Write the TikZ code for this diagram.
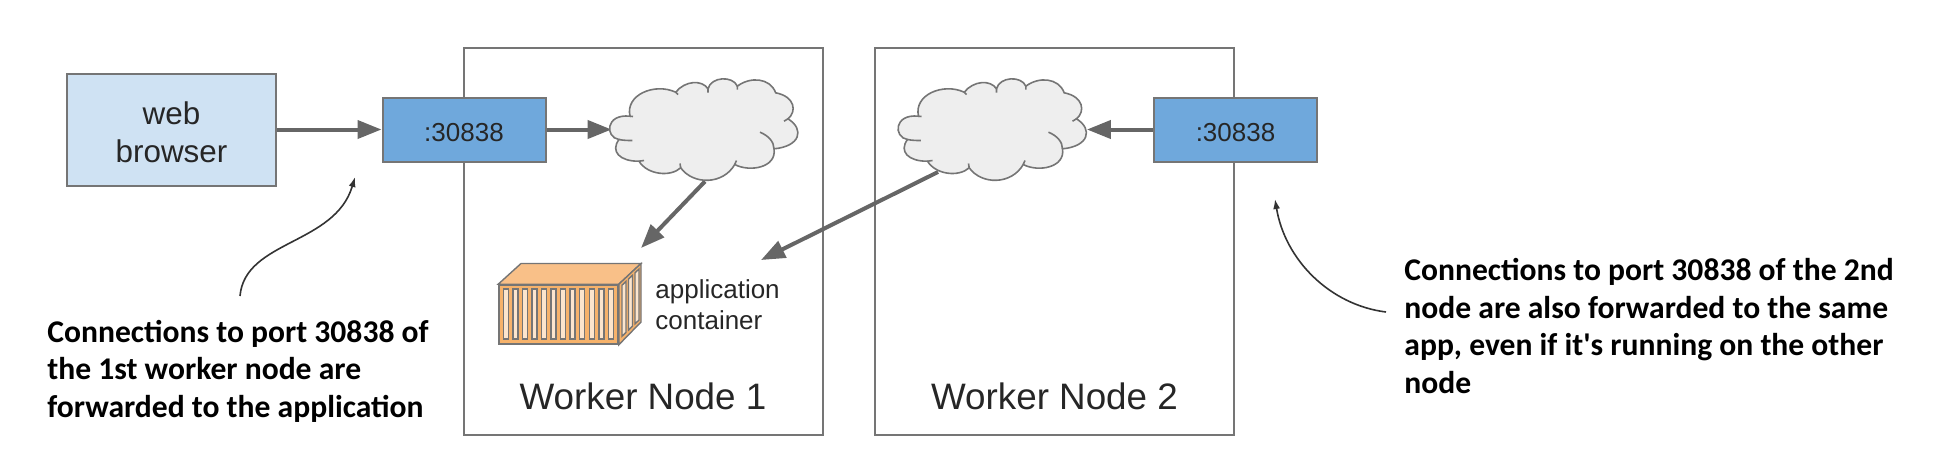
\documentclass[tikz,border=0pt]{standalone}
\usepackage{fontspec}
\setmainfont{Liberation Sans}
\newfontfamily\notefont{Carlito}
\usetikzlibrary{positioning, arrows.meta}
\definecolor{edgegray}{HTML}{757575}
\definecolor{arrowgray}{HTML}{666666}
\definecolor{browserblue}{HTML}{CFE2F3}
\definecolor{portblue}{HTML}{6FA8DC}
\definecolor{cloudgray}{HTML}{EEEEEE}
\definecolor{boxorange}{HTML}{F6B26B}
\definecolor{lidorange}{HTML}{F9C088}
\definecolor{slatcream}{HTML}{FCE5CD}
\tikzset{
netcloud/.pic = {
  \path[draw = edgegray, fill = cloudgray, line width = 0.8pt]
    (-75,-13.3) .. controls (-80,-35) and (-50,-47) .. (-29.3,-37.3)
    .. controls (-20,-49) and (-3,-50) .. (3,-40.7)
    .. controls (6,-53) and (28,-54) .. (32.3,-43.3)
    .. controls (45,-53) and (65,-52) .. (70.7,-36.7)
    .. controls (90,-33) and (92,-18) .. (83,-10.7)
    .. controls (100,0) and (95,17) .. (69,19.3)
    .. controls (72,38) and (45,43) .. (29.7,35)
    .. controls (18,55.5) and (-12,55.5) .. (-24.3,38.3)
    .. controls (-35,48) and (-58,45) .. (-66,31.7)
    .. controls (-85,32) and (-95,22) .. (-86,10)
    .. controls (-100,8) and (-100,-16) .. (-75,-13.3) -- cycle;
  \draw[edgegray, line width = 0.8pt]
    (-86,10) .. controls (-81,11) and (-77,11) .. (-72.7,11)
    (69,19.3) .. controls (69,12) and (63,6) .. (55,2.7)
    (83,-10.7) -- (79,-8.3)
    (-29.3,-37.3) -- (-27,-35)
    (3,-40.7) -- (3,-37)
    (32.3,-43.3) -- (32.3,-40)
    (-75,-13.3) -- (-72,-13)
    (29.7,35) -- (31.5,31)
    (-24.3,38.3) -- (-25,34)
    (-66,31.7) -- (-61,31);
}}
\begin{document}
\begin{tikzpicture}[x = 0.5pt, y = -0.5pt, on grid,
browser/.style = {rectangle, draw = edgegray, fill = browserblue, line width = 1pt, minimum width = 104.5pt, minimum height = 56pt, align = center, text = black!85, text height = 33pt, text depth = 0pt, font = \fontsize{15.7}{19}\selectfont},
port/.style = {rectangle, draw = edgegray, fill = portblue, line width = 1pt, minimum width = 81.5pt, minimum height = 32pt, text = black!85, text height = 12pt, text depth = 0pt, font = \fontsize{13}{15.5}\selectfont},
worker/.style = {rectangle, draw = edgegray, line width = 1pt, minimum width = 179.5pt, minimum height = 193.5pt},
workerlabel/.style = {inner sep = 0pt, text = black!85, font = \fontsize{18.4}{21}\selectfont},
cloudspot/.style = {rectangle, minimum width = 93pt, minimum height = 51.5pt, inner sep = 0pt},
crate/.style = {rectangle, draw = edgegray, fill = boxorange, line width = 0.8pt, minimum width = 59.5pt, minimum height = 29.5pt},
slat/.style = {draw = edgegray, fill = slatcream, line width = 0.7pt},
cratelabel/.style = {inner sep = 0pt, align = left, text = black!85, font = \fontsize{13}{15.5}\selectfont},
note/.style = {inner sep = 0pt, align = left, font = \fontsize{15.8}{18.75}\selectfont\notefont\bfseries},
flow/.style = {-{Triangle[length = 12pt, width = 9pt]}, arrowgray, line width = 2pt},
callout/.style = {-{Latex[length = 5pt, width = 3.5pt]}, black!80, line width = 0.8pt}]
\useasboundingbox (0,0) rectangle (1936,472);

\node[worker] (W1) at (643,241.5) {};
\node[worker] (W2) at (1054.5,241.5) {};
\node[browser] (B) at (171.5,129.5) {web\\browser};
\node[port] (P1) [right = 146.25pt of B] {:30838};
\node[port] (P2) at ([xshift = 0.25pt]W2.east |- P1) {:30838};
\node[cloudspot] (C1) [right = 120.5pt of P1] {};
\node[cloudspot] (C2) [left = 121pt of P2] {};
\node[workerlabel, anchor = base] (L1) at ([yshift = 13.5pt]W1.south) {Worker Node 1};
\node[workerlabel, anchor = base] (L2) at ([yshift = 13.5pt]W2.south) {Worker Node 2};
\node[crate] (K) at (558.5,314.5) {};
\node[cratelabel, anchor = base west] (T) at (655,329) {application\\container};
\node[note, anchor = base west] (N1) at (47,417) {Connections to port 30838 of\\the 1st worker node are\\forwarded to the application};
\node[note, anchor = base west] (N2) at (1404,393) {Connections to port 30838 of the 2nd\\node are also forwarded to the same\\app, even if it's running on the other\\node};

\coordinate (A) at (641,248);
\coordinate (E) at (761,260);
\coordinate (S) at (938,172);
\coordinate (F) at (355,177);
\coordinate (G) at (240,296);
\coordinate (H) at (1275,199);
\coordinate (I) at (1386,312);

\draw[slat, fill = lidorange] (K.north west) -- (521,263.5) -- (641,263.5) -- (K.north east) -- cycle;
\draw[slat, fill = boxorange] (K.north east) -- (641,263.5) -- (641,322) -- (K.south east) -- cycle;
\foreach \n in {0,...,11}
  \draw[slat] ({503.3+9.55*\n},289) rectangle ({508.3+9.55*\n},339);
\foreach \s in {4,10.5,17}
  \draw[slat] ({618+\s},{289-.95*\s}) -- ({622+\s},{289-.95*\s-3.8}) -- ({622+\s},{340-.95*\s-3.8}) -- ({618+\s},{340-.95*\s}) -- cycle;

\path (B) edge[flow] (P1)
      (P1) edge[flow] (C1)
      (P2) edge[flow] (C2)
      (C1.south) edge[flow] (A)
      (S) edge[flow] (E);
\pic at (C1) {netcloud};
\pic at (C2) {netcloud};

\draw[callout] (G) .. controls (245,240) and (335,245) .. (F);
\draw[callout] (I) .. controls (1330,305) and (1285,260) .. (H);
\end{tikzpicture}
\end{document}
